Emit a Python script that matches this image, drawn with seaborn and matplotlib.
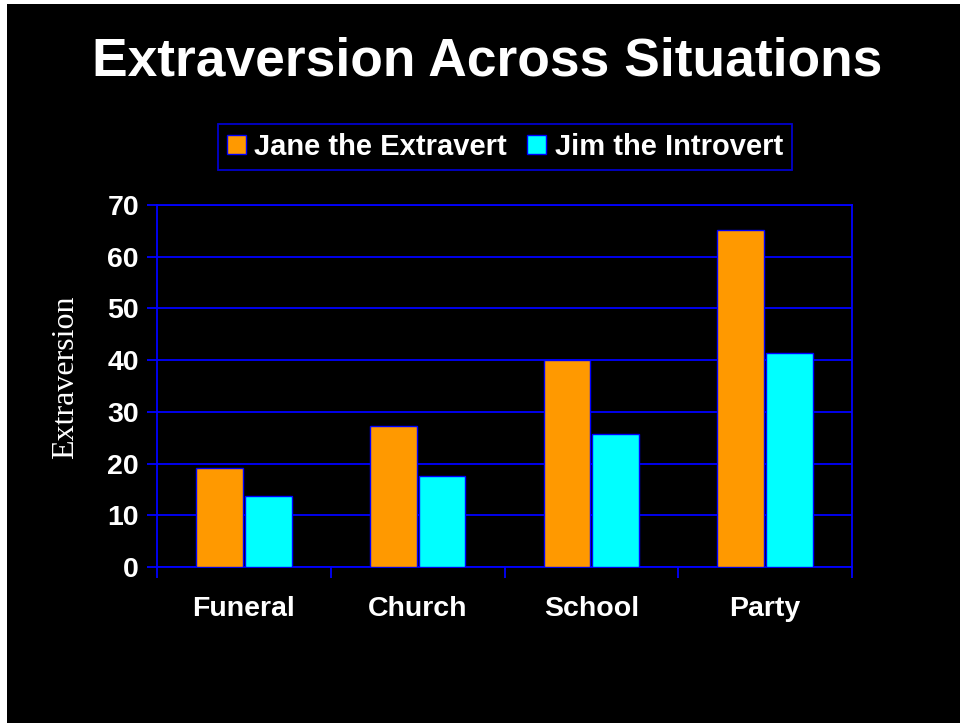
import matplotlib
matplotlib.use("Agg")
import matplotlib.pyplot as plt
from matplotlib.patches import Rectangle, Patch
import seaborn as sns
import pandas as pd

categories = ["Funeral", "Church", "School", "Party"]
series_names = ["Jane the Extravert", "Jim the Introvert"]
jane_values = [19.2, 27.3, 40.0, 65.1]
jim_values = [13.8, 17.6, 25.7, 41.4]
y_ticks = [0, 10, 20, 30, 40, 50, 60, 70]

df = pd.DataFrame({
    "Situation": categories * 2,
    "Person": [series_names[0]] * 4 + [series_names[1]] * 4,
    "Value": jane_values + jim_values,
})

sns.set_theme(style="white")
plt.rcParams["font.family"] = ["Liberation Sans", "DejaVu Sans"]

BLUE = "#0000FF"
ORANGE = "#FF9900"
CYAN = "#00FFFF"

fig = plt.figure(figsize=(9.6, 7.23), dpi=100)
fig.patch.set_facecolor("white")
fig.add_artist(Rectangle((7 / 960, 0), 1 - 7 / 960, 1 - 4 / 723,
                         transform=fig.transFigure, facecolor="black",
                         edgecolor="none", zorder=-10))

ax = fig.add_axes([157 / 960, 1 - 567 / 723, (852 - 157) / 960, (567 - 205) / 723])
ax.set_facecolor("black")

sns.barplot(data=df, x="Situation", y="Value", hue="Person", order=categories,
            hue_order=series_names, palette=[ORANGE, CYAN], width=0.56, gap=0.04,
            edgecolor=BLUE, linewidth=1.0, saturation=1, ax=ax, legend=False,
            zorder=3)

ax.set_xlim(-0.5, 3.5)
ax.set_ylim(0, 70)
ax.set_yticks(y_ticks)
ax.set_yticklabels([str(v) for v in y_ticks], fontsize=20.5, fontweight="bold", color="white")
ax.yaxis.grid(True, color=BLUE, linewidth=1.3, zorder=0)
ax.set_axisbelow(True)
ax.xaxis.grid(False)
ax.tick_params(axis="y", which="major", length=7, width=1.3, color=BLUE, direction="out", pad=6, left=True)

ax.set_xticks(range(len(categories)))
ax.set_xticklabels(categories, fontsize=20.5, fontweight="bold", color="white")
ax.tick_params(axis="x", which="major", length=0, pad=21)
ax.set_xticks([-0.5, 0.5, 1.5, 2.5, 3.5], minor=True)
ax.tick_params(axis="x", which="minor", length=8, width=1.3, color=BLUE, direction="out", bottom=True)

for s in ax.spines.values():
    s.set_color(BLUE)
    s.set_linewidth(1.3)
    s.set_visible(True)

ax.set_xlabel("")
ax.set_ylabel("")

fig.text(487 / 960, 1 - 62 / 723, "Extraversion Across Situations", ha="center", va="center",
         fontsize=38.4, fontweight="bold", color="white")
fig.text(66 / 960, 1 - 377 / 723, "Extraversion", rotation=90, ha="center", va="center",
         fontsize=23, color="white", family=["Liberation Serif", "DejaVu Serif"])

handles = [Patch(facecolor=ORANGE, edgecolor=BLUE, linewidth=1.0),
           Patch(facecolor=CYAN, edgecolor=BLUE, linewidth=1.0)]
leg = fig.legend(handles, series_names, loc="center", bbox_to_anchor=(505 / 960, 1 - 147 / 723),
                 ncol=2, frameon=True, fancybox=False, facecolor="black", edgecolor=BLUE,
                 prop={"size": 21, "weight": "bold"}, labelcolor="white",
                 handlelength=0.65, handleheight=0.65, handletextpad=0.3, columnspacing=0.7,
                 borderpad=0.3, borderaxespad=0)
leg.get_frame().set_linewidth(1.3)

fig.savefig("out.png", dpi=100, facecolor=fig.get_facecolor())
